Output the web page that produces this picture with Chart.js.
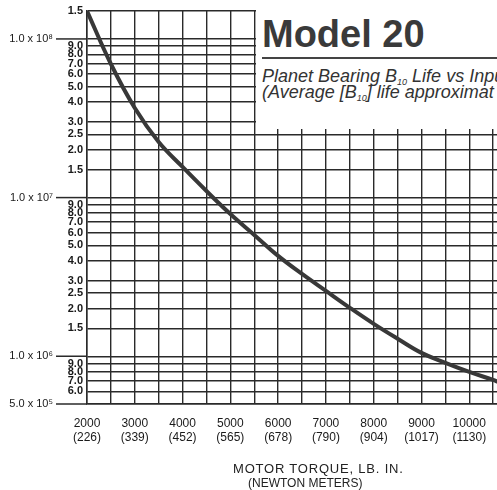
<!DOCTYPE html>
<html>
<head>
<meta charset="utf-8">
<script src="https://cdn.jsdelivr.net/npm/chart.js@4.4.1/dist/chart.umd.min.js"></script>
<style>
    html, body { margin: 0; padding: 0; background: #fff; }
    #wrap { position: relative; width: 497px; height: 490px; overflow: hidden; }
    #titleBox {
        position: absolute; left: 256px; top: 0; width: 241px; height: 129px;
        background: #fff; overflow: hidden; white-space: nowrap;
        font-family: 'Liberation Sans', Arial, sans-serif;
    }
    #titleBox .big { position: absolute; left: 6px; top: 15px; font-size: 38px; line-height: 38px; font-weight: bold; color: #3a3a3a; }
    #titleBox .rule { position: absolute; left: 6px; top: 57px; width: 300px; height: 2px; background: #444; }
    #titleBox .sub { position: absolute; left: 6px; font-size: 18px; line-height: 18px; font-style: italic; color: #333; }
    #titleBox sub { font-size: 9px; vertical-align: -3px; line-height: 0; }
    .axisTitle { position: absolute; font-family: 'Liberation Sans', Arial, sans-serif; color: #222; white-space: nowrap; }
</style>
</head>
<body>
<div id="wrap">
    <canvas id="lifeChart" width="497" height="490"></canvas>
    <div id="titleBox">
        <div class="big">Model 20</div>
        <div class="rule"></div>
        <div class="sub" style="top: 67px;">Planet Bearing B<sub>10</sub> Life vs Input</div>
        <div class="sub" style="top: 83px;">(Average [B<sub>10</sub>] life approximat</div>
    </div>
    <div class="axisTitle" style="left: 233px; top: 461px; font-size: 13px; letter-spacing: 0.8px;">MOTOR TORQUE, LB. IN.</div>
    <div class="axisTitle" style="left: 248px; top: 476px; font-size: 12px;">(NEWTON METERS)</div>
</div>
<script>
// curve
const torque = [2000, 2500, 3000, 3500, 4000, 4500, 5000, 5500, 6000, 6500, 7000, 7500, 8000, 8500, 9000, 9500, 10000, 10500, 10600];
const life = [1.5e8, 6.95e7, 3.67e7, 2.24e7, 1.56e7, 1.1e7, 7.88e6, 5.82e6, 4.29e6, 3.3e6, 2.58e6, 2.02e6, 1.6e6, 1.29e6, 1.05e6, 9.08e5, 7.96e5, 7.1e5, 6.9e5];

// x axis: grid every 500, labels at the thousands
const xGridValues = [2000, 2500, 3000, 3500, 4000, 4500, 5000, 5500, 6000, 6500, 7000, 7500, 8000, 8500, 9000, 9500, 10000, 10500];
const xLabelValues = [2000, 3000, 4000, 5000, 6000, 7000, 8000, 9000, 10000];
const xNewtonMeters = ['226', '339', '452', '565', '678', '790', '904', '1017', '1130'];

// y axis ticks (log)
const yTickValues = [1.5e8, 1e8, 9e7, 8e7, 7e7, 6e7, 5e7, 4e7, 3e7, 2.5e7, 2e7, 1.5e7,
    1e7, 9e6, 8e6, 7e6, 6e6, 5e6, 4e6, 3e6, 2.5e6, 2e6, 1.5e6,
    1e6, 9e5, 8e5, 7e5, 6e5, 5e5];
const yTickLabels = ['1.5', '1.0 x 10⁸', '9.0', '8.0', '7.0', '6.0', '5.0', '4.0', '3.0', '2.5', '2.0', '1.5',
    '1.0 x 10⁷', '9.0', '8.0', '7.0', '6.0', '5.0', '4.0', '3.0', '2.5', '2.0', '1.5',
    '1.0 x 10⁶', '9.0', '8.0', '7.0', '6.0', '5.0 x 10⁵'];

const ink = '#2a2a2a';

function yLabelFor(v) {
    const i = yTickValues.findIndex(t => Math.abs(t - v) / t < 1e-6);
    return i >= 0 ? yTickLabels[i] : '';
}

// decade labels sit further left with a short tick running into the plot
const decadeLabels = {
    id: 'decadeLabels',
    afterDraw(chart) {
        const y = chart.scales.y;
        const ctx = chart.ctx;
        ctx.save();
        ctx.strokeStyle = ink;
        ctx.lineWidth = 1.5;
        ctx.fillStyle = '#1a1a1a';
        ctx.font = '11px "Liberation Sans", Arial, sans-serif';
        ctx.textAlign = 'right';
        ctx.textBaseline = 'middle';
        yTickValues.forEach((v, i) => {
            const label = yTickLabels[i];
            if (label.indexOf('x') < 0) return;
            const py = y.getPixelForValue(v);
            ctx.beginPath();
            ctx.moveTo(56, py);
            ctx.lineTo(chart.chartArea.left, py);
            ctx.stroke();
            ctx.fillText(label, 53, py);
        });
        ctx.restore();
    }
};

new Chart(document.getElementById('lifeChart'), {
    type: 'line',
    data: {
        datasets: [{
            data: torque.map((t, i) => ({ x: t, y: life[i] })),
            borderColor: '#383838',
            borderWidth: 4,
            pointRadius: 0,
            tension: 0.4,
            fill: false
        }]
    },
    options: {
        responsive: false,
        animation: false,
        layout: { padding: { top: 11, right: 0, left: 0, bottom: 0 } },
        plugins: {
            legend: { display: false },
            title: { display: false },
            tooltip: { enabled: false }
        },
        scales: {
            x: {
                type: 'linear',
                min: 2000,
                max: 10580,
                afterBuildTicks: s => { s.ticks = xGridValues.map(v => ({ value: v })); },
                afterFit: s => { s.height = 86; s.paddingRight = 0; s.paddingLeft = 0; },
                grid: { color: ink, lineWidth: 1.4, drawTicks: false },
                border: { color: ink, width: 1.5 },
                ticks: {
                    autoSkip: false,
                    maxRotation: 0,
                    padding: 12,
                    color: '#1a1a1a',
                    font: { family: 'Liberation Sans', size: 12 },
                    callback: v => {
                        const i = xLabelValues.indexOf(v);
                        return i >= 0 ? [String(v), '(' + xNewtonMeters[i] + ')'] : '';
                    }
                }
            },
            y: {
                type: 'logarithmic',
                min: 5e5,
                max: 1.5e8,
                afterBuildTicks: s => { s.ticks = yTickValues.map(v => ({ value: v })); },
                afterFit: s => { s.width = 87; },
                grid: { color: ink, lineWidth: 1.4, drawTicks: false },
                border: { color: ink, width: 1.5 },
                ticks: {
                    autoSkip: false,
                    padding: 4,
                    color: '#1a1a1a',
                    font: { family: 'Liberation Sans', size: 11, weight: 'bold' },
                    callback: v => {
                        const s = yLabelFor(v);
                        return s.indexOf('x') >= 0 ? '' : s;
                    }
                }
            }
        }
    },
    plugins: [decadeLabels]
});
</script>
</body>
</html>
